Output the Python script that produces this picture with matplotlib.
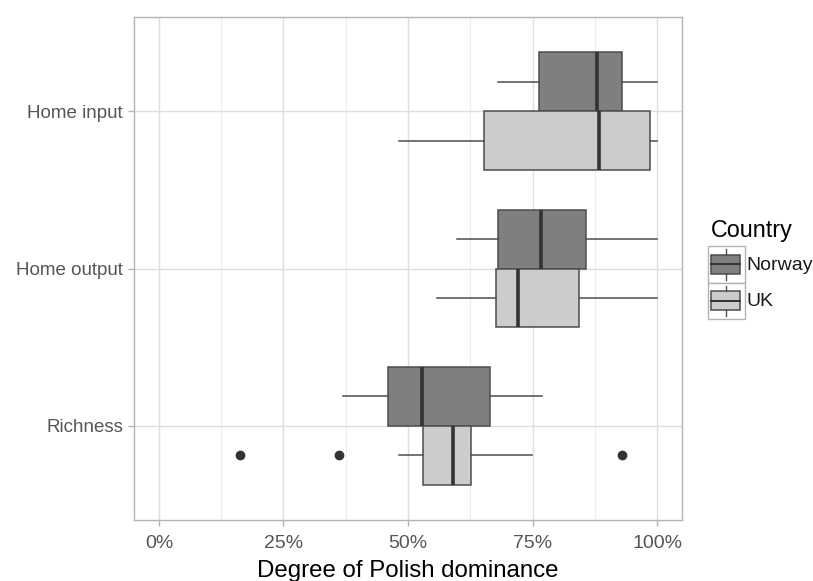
import matplotlib
matplotlib.use("Agg")
import matplotlib.pyplot as plt
from matplotlib.patches import Rectangle
from matplotlib.lines import Line2D
from matplotlib.ticker import FixedLocator, FuncFormatter

plt.rcParams['font.family'] = ['Liberation Sans', 'DejaVu Sans']

# Categories, bottom to top
categories = ["Richness", "Home output", "Home input"]
countries = ["Norway", "UK"]

# Box summaries per category (fractions): whisker low, q1, median, q3, whisker high
norway_whislo = [0.369, 0.599, 0.680]
norway_q1     = [0.460, 0.680, 0.763]
norway_med    = [0.528, 0.766, 0.879]
norway_q3     = [0.665, 0.858, 0.930]
norway_whishi = [0.769, 1.000, 1.000]
norway_fliers = [[], [], []]

uk_whislo = [0.481, 0.558, 0.481]
uk_q1     = [0.531, 0.677, 0.652]
uk_med    = [0.590, 0.720, 0.884]
uk_q3     = [0.627, 0.843, 0.985]
uk_whishi = [0.749, 1.000, 1.000]
uk_fliers = [[0.162, 0.361, 0.930], [], []]

x_ticks = [0.0, 0.25, 0.5, 0.75, 1.0]
x_minor = [0.125, 0.375, 0.625, 0.875]

fills = {"Norway": "#7f7f7f", "UK": "#cccccc"}
line_col = "#4d4d4d"
med_col = "#333333"

W, H = 813, 581
fig = plt.figure(figsize=(W / 100, H / 100), dpi=100)
ax = fig.add_axes([134 / W, (H - 520) / H, 548 / W, 503 / H])

box_w = 0.375
offsets = {"Norway": box_w / 2, "UK": -box_w / 2}
series = {
    "Norway": (norway_whislo, norway_q1, norway_med, norway_q3, norway_whishi, norway_fliers),
    "UK": (uk_whislo, uk_q1, uk_med, uk_q3, uk_whishi, uk_fliers),
}

for c in countries:
    lo, q1, med, q3, hi, fl = series[c]
    stats = []
    for i in range(len(categories)):
        stats.append(dict(whislo=lo[i], q1=q1[i], med=med[i], q3=q3[i],
                          whishi=hi[i], fliers=fl[i]))
    pos = [i + 1 + offsets[c] for i in range(len(categories))]
    ax.bxp(stats, positions=pos, widths=box_w, orientation="horizontal",
           patch_artist=True, showcaps=False, manage_ticks=False,
           boxprops=dict(facecolor=fills[c], edgecolor=line_col, linewidth=1.1),
           whiskerprops=dict(color=line_col, linewidth=1.1),
           medianprops=dict(color=med_col, linewidth=2.6, solid_capstyle="butt"),
           flierprops=dict(marker="o", markersize=6, markerfacecolor="#333333",
                           markeredgecolor="#333333"),
           zorder=3)

ax.set_xlim(-0.05, 1.05)
ax.set_ylim(0.4, 3.6)
ax.xaxis.set_major_locator(FixedLocator(x_ticks))
ax.xaxis.set_minor_locator(FixedLocator(x_minor))
ax.xaxis.set_major_formatter(FuncFormatter(lambda v, p: f"{v * 100:.0f}%"))
ax.set_yticks(range(1, len(categories) + 1))
ax.set_yticklabels(categories)

ax.grid(True, which="major", color="#dedede", linewidth=1.0, zorder=0)
ax.grid(True, which="minor", axis="x", color="#ededed", linewidth=0.8, zorder=0)
ax.set_axisbelow(True)
for s in ax.spines.values():
    s.set_color("#b3b3b3")
    s.set_linewidth(1.0)

ax.tick_params(axis="both", which="major", colors="#b3b3b3", length=4, width=1.0,
               labelcolor="#555555")
ax.tick_params(axis="x", which="minor", length=0)
ax.tick_params(axis="x", pad=6.5, labelsize=14)
ax.tick_params(axis="y", pad=4, labelsize=13.5)

ax.set_xlabel("Degree of Polish dominance", fontsize=17.3, color="black", labelpad=6)

# Legend drawn in figure pixel space
def px(x, y):
    return x / W, (H - y) / H

fig.text(*px(711, 237), "Country", fontsize=16.8, color="black", ha="left", va="baseline")
key_top = 246
key_h = 36.5
for i, c in enumerate(countries):
    t = key_top + i * key_h
    x0, y0 = px(708, t + key_h)
    fig.add_artist(Rectangle((x0, y0), 37 / W, key_h / H, transform=fig.transFigure,
                             facecolor="white", edgecolor="#b3b3b3", linewidth=1.0))
    bx, by = px(711, t + 27.5)
    fig.add_artist(Rectangle((bx, by), 29 / W, 19 / H, transform=fig.transFigure,
                             facecolor=fills[c], edgecolor=line_col, linewidth=1.1))
    mx0, my = px(711, t + 18.2)
    mx1, _ = px(740, t + 18.2)
    fig.add_artist(Line2D([mx0, mx1], [my, my], transform=fig.transFigure,
                          color=med_col, linewidth=1.4))
    wx, wy0 = px(725.7, t + 3)
    _, wy1 = px(725.7, t + 8.5)
    fig.add_artist(Line2D([wx, wx], [wy0, wy1], transform=fig.transFigure,
                          color=line_col, linewidth=1.0))
    _, wy2 = px(725.7, t + 27.5)
    _, wy3 = px(725.7, t + 33.5)
    fig.add_artist(Line2D([wx, wx], [wy2, wy3], transform=fig.transFigure,
                          color=line_col, linewidth=1.0))
    fig.text(*px(746, t + 19.5), c, fontsize=14, color="#1a1a1a", ha="left", va="center")

fig.savefig("out.png", dpi=100, facecolor="white")
